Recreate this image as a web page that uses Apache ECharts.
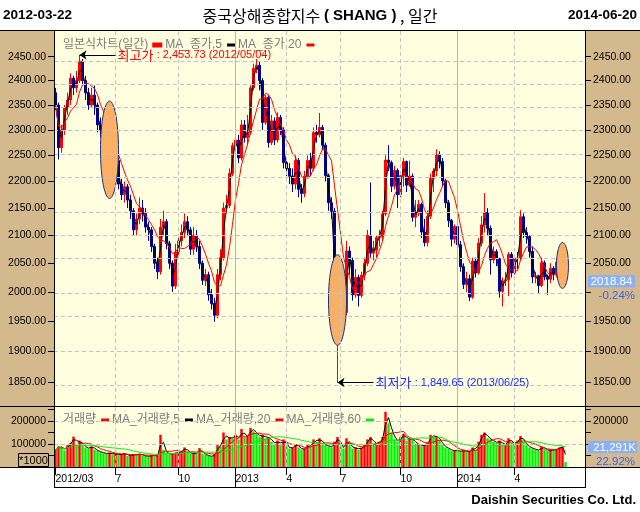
<!DOCTYPE html>
<html>
<head>
<meta charset="utf-8">
<script src="https://cdn.jsdelivr.net/npm/echarts@6/dist/echarts.min.js"></script>
<style>
  html, body { margin: 0; padding: 0; background: #fff; }
  #chart { width: 640px; height: 512px; }
</style>
</head>
<body>
<div id="chart"></div>
<script>
// each bar stands for ~3 trading days (one bar ~ 3px on the original daily chart)
var months = ['2012/03', '2012/04', '2012/05', '2012/06', '2012/07', '2012/08', '2012/09', '2012/10', '2012/11', '2012/12',
  '2013/01', '2013/02', '2013/03', '2013/04', '2013/05', '2013/06', '2013/07', '2013/08', '2013/09', '2013/10', '2013/11', '2013/12',
  '2014/01', '2014/02', '2014/03', '2014/04', '2014/05', '2014/06'];
var barsPerMonth = [2, 6, 6, 6, 7, 7, 7, 5, 7, 7, 6, 5, 6, 6, 6, 6, 7, 7, 6, 6, 6, 7, 7, 5, 7, 7, 6, 5];
var paddingBars = 6;

var opens = [2375, 2350,
  2265, 2300, 2345, 2360, 2405, 2385,
  2400, 2440, 2400, 2375, 2350, 2370,
  2350, 2310, 2300, 2305, 2270, 2230,
  2225, 2240, 2195, 2175, 2190, 2165, 2145,
  2110, 2130, 2150, 2140, 2115, 2110, 2080,
  2050, 2035, 2115, 2125, 2085, 2050, 2010,
  2070, 2090, 2105, 2125, 2110,
  2075, 2100, 2080, 2050, 2020, 2030, 1995,
  1980, 1960, 2030, 2060, 2150, 2155, 2215,
  2269, 2280, 2245, 2310, 2285, 2295,
  2385, 2425, 2432, 2400, 2315,
  2365, 2275, 2318, 2280, 2325, 2300,
  2236, 2225, 2210, 2195, 2240, 2185,
  2177, 2210, 2240, 2225, 2295, 2290,
  2305, 2270, 2211, 2160, 2144, 1950,
  1979, 2005, 1965, 2072, 2055, 1995, 2025,
  1994, 2029, 2050, 2100, 2068, 2073, 2096,
  2098, 2139, 2241, 2236, 2191, 2221,
  2175, 2211, 2238, 2193, 2210, 2133,
  2141, 2157, 2106, 2087, 2135, 2206,
  2220, 2251, 2238, 2201, 2160, 2127, 2093,
  2116, 2083, 2044, 2013, 2023, 1991, 2054,
  2033, 2086, 2119, 2142, 2113,
  2056, 2071, 2058, 2001, 2019, 2021, 2066,
  2033, 2059, 2058, 2134, 2105, 2098, 2071,
  2026, 2028, 2011, 2051, 2026, 2022,
  2041, 2030, 2052, 2070, 2056];

var closes = [2350, 2265,
  2300, 2345, 2360, 2405, 2385, 2400,
  2440, 2400, 2375, 2350, 2370, 2350,
  2310, 2300, 2305, 2270, 2230, 2225,
  2240, 2195, 2175, 2190, 2165, 2145, 2110,
  2130, 2150, 2140, 2115, 2110, 2080, 2050,
  2035, 2115, 2125, 2085, 2050, 2010, 2070,
  2090, 2105, 2125, 2110, 2075,
  2100, 2080, 2050, 2020, 2030, 1995, 1980,
  1960, 2030, 2060, 2150, 2155, 2215, 2269,
  2280, 2245, 2310, 2285, 2295, 2385,
  2425, 2432, 2400, 2315, 2365,
  2275, 2318, 2280, 2325, 2300, 2236,
  2225, 2210, 2195, 2240, 2185, 2177,
  2210, 2240, 2225, 2295, 2290, 2305,
  2270, 2211, 2160, 2144, 1963, 1979,
  2005, 1965, 2072, 2055, 1995, 2025, 1994,
  2029, 2050, 2100, 2068, 2073, 2096, 2098,
  2139, 2241, 2236, 2191, 2221, 2175,
  2211, 2238, 2193, 2210, 2133, 2141,
  2157, 2106, 2087, 2135, 2206, 2220,
  2251, 2238, 2201, 2160, 2127, 2093, 2116,
  2083, 2044, 2013, 2023, 1991, 2054, 2033,
  2086, 2119, 2142, 2113, 2056,
  2071, 2058, 2001, 2019, 2021, 2066, 2033,
  2059, 2058, 2134, 2105, 2098, 2071, 2026,
  2028, 2011, 2051, 2026, 2022, 2041,
  2030, 2052, 2070, 2056, 2018.84];

var lows = [2340, 2242,
  2255, 2290, 2330, 2350, 2370, 2375,
  2395, 2390, 2360, 2340, 2345, 2330,
  2295, 2285, 2280, 2260, 2220, 2200,
  2210, 2185, 2165, 2160, 2150, 2130, 2100,
  2100, 2120, 2125, 2105, 2090, 2070, 2040,
  2022, 2030, 2100, 2075, 2040, 2000, 2005,
  2060, 2080, 2095, 2100, 2065,
  2065, 2070, 2040, 2012, 2010, 1985, 1970,
  1949, 1955, 2020, 2055, 2140, 2150, 2210,
  2255, 2235, 2240, 2275, 2270, 2290,
  2380, 2415, 2380, 2300, 2310,
  2265, 2270, 2270, 2275, 2290, 2225,
  2210, 2195, 2180, 2185, 2170, 2160,
  2170, 2205, 2210, 2220, 2275, 2285,
  2260, 2200, 2145, 2130, 1955, 1849.65,
  1970, 1955, 1960, 2030, 1985, 1990, 1975,
  1990, 2020, 2045, 2060, 2055, 2060, 2080,
  2090, 2135, 2220, 2180, 2185, 2150,
  2170, 2190, 2180, 2190, 2125, 2115,
  2135, 2095, 2080, 2080, 2130, 2180,
  2210, 2225, 2190, 2150, 2115, 2080, 2085,
  2075, 2035, 2005, 2000, 1984, 1988, 2025,
  2030, 2080, 2105, 2100, 2030,
  2050, 2045, 1990, 1975, 2010, 1993, 2025,
  2030, 2040, 2055, 2095, 2085, 2060, 2015,
  2015, 1998, 2008, 2020, 1995, 2015,
  2020, 2025, 2045, 2050, 2012];

var highs = [2385, 2355,
  2310, 2350, 2375, 2415, 2410, 2420,
  2453.73, 2445, 2410, 2385, 2385, 2390,
  2355, 2325, 2320, 2310, 2280, 2245,
  2260, 2245, 2205, 2200, 2195, 2175, 2150,
  2140, 2170, 2165, 2150, 2125, 2115, 2085,
  2060, 2130, 2145, 2130, 2090, 2055, 2085,
  2100, 2120, 2140, 2135, 2115,
  2115, 2110, 2090, 2055, 2040, 2035, 2005,
  1990, 2040, 2075, 2160, 2175, 2225, 2275,
  2295, 2290, 2320, 2320, 2330, 2390,
  2435, 2445, 2440, 2405, 2370,
  2370, 2330, 2325, 2335, 2330, 2305,
  2245, 2235, 2225, 2250, 2245, 2195,
  2220, 2250, 2255, 2305, 2310, 2334,
  2310, 2275, 2215, 2170, 2150, 1990,
  2020, 2010, 2090, 2080, 2060, 2040, 2030,
  2035, 2060, 2110, 2198, 2090, 2100, 2110,
  2145, 2250, 2270, 2240, 2230, 2225,
  2215, 2245, 2240, 2240, 2215, 2165,
  2165, 2160, 2130, 2145, 2215, 2225,
  2262, 2258, 2245, 2205, 2165, 2130, 2120,
  2120, 2090, 2050, 2035, 2030, 2060, 2060,
  2095, 2135, 2178, 2150, 2118,
  2080, 2075, 2060, 2025, 2035, 2070, 2070,
  2065, 2070, 2146, 2140, 2115, 2100, 2080,
  2035, 2030, 2060, 2055, 2030, 2050,
  2045, 2060, 2075, 2087, 2060];

// volume in thousands of axis units (axis is *1000)
var volumesK = [75, 90,
  85, 72, 95, 105, 132, 100,
  115, 95, 85, 80, 90, 75,
  70, 65, 60, 58, 62, 55,
  58, 52, 55, 60, 48, 50, 55,
  52, 58, 50, 48, 45, 52, 47,
  50, 140, 75, 60, 55, 58, 62,
  62, 70, 85, 65, 58,
  60, 55, 82, 58, 52, 48, 45,
  55, 95, 90, 150, 120, 130, 125,
  140, 120, 165, 130, 135, 170,
  155, 145, 130, 140, 125,
  130, 110, 100, 115, 95, 120,
  90, 80, 85, 100, 85, 75,
  80, 95, 90, 120, 110, 125,
  100, 95, 90, 85, 110, 130,
  90, 80, 125, 95, 80, 85, 75,
  85, 95, 120, 130, 100, 105, 110,
  130, 240, 190, 150, 120, 110,
  130, 145, 115, 125, 120, 100,
  100, 90, 95, 105, 140, 130,
  135, 115, 95, 85, 80, 70, 72,
  70, 68, 72, 65, 68, 85, 75,
  110, 140, 150, 125, 120,
  110, 105, 115, 95, 100, 125, 105,
  100, 115, 135, 110, 95, 85, 80,
  75, 72, 90, 78, 70, 75,
  72, 78, 85, 88, 21.291];

var priceTicks = [1850, 1900, 1950, 2000, 2050, 2100, 2150, 2200, 2250, 2300, 2350, 2400, 2450];
// on the right the last-price box covers 2000.00
var rightPriceLabels = [1850, 1900, 1950, 2050, 2100, 2150, 2200, 2250, 2300, 2350, 2400, 2450];
var volumeTicks = [50000, 100000, 150000, 200000, 250000];
var volumeLabels = [100000, 200000];
var lastPrice = 2018.84;
var highPoint = [8, 2453.73];
var lowPoint = [94, 1849.65];
// orange marks: [first bar, last bar, top price, bottom price]
var ellipses = [[15, 21, 2358, 2168], [91, 97, 2065, 1910], [167, 171, 2087, 2006]];

// 5/20/60-day averages span about 2/7/20 of these 3-day bars
var maBars = { ma5: 2, ma20: 7, ma60: 20 };

var categories = [];
var xLabels = {};
var quarterLines = [];
var yearLines = [];
months.forEach(function (m, mi) {
  var start = categories.length;
  var mm = m.slice(5);
  if (mi === 0) xLabels[start] = m;
  else if (mm === '01') { xLabels[start] = m.slice(0, 4); yearLines.push(start); }
  else if (mi > 1 && (mm === '04' || mm === '07' || mm === '10')) { xLabels[start] = String(parseInt(mm, 10)); quarterLines.push(start); }
  for (var k = 0; k < barsPerMonth[mi]; k++) categories.push(m + '#' + k);
});
for (var p = 0; p < paddingBars; p++) categories.push('pad' + p);

function movingAverage(values, n) {
  return values.map(function (v, i) {
    var from = Math.max(0, i - n + 1), sum = 0;
    for (var j = from; j <= i; j++) sum += values[j];
    return sum / (i - from + 1);
  });
}

var L = Math.log;
var candleData = opens.map(function (o, i) {
  return [L(o), L(closes[i]), L(lows[i]), L(highs[i])];
});
var ma5 = movingAverage(closes, maBars.ma5).map(L);
var ma20 = movingAverage(closes, maBars.ma20).map(L);

var volumes = volumesK.map(function (v) { return Math.round(v * 1000); });
var vma5 = movingAverage(volumes, maBars.ma5);
var vma20 = movingAverage(volumes, maBars.ma20);
var vma60 = movingAverage(volumes, maBars.ma60);

var RED = '#ff0000', BLUE = '#0000a0', GREEN = '#00f000', TAN = '#d4b98e', PANEL = '#ffffe0';
var NUM = 'Liberation Sans, Arial, sans-serif';
var KR = 'Noto Sans CJK KR, sans-serif';
var LEG = 'Liberation Sans, Noto Sans CJK KR, sans-serif';
var dashed = { color: '#c4c4c4', type: [4, 3], width: 1 };
var solid = { color: '#b4b4b4', type: 'solid', width: 1 };

function verticalLines() {
  return quarterLines.map(function (i) { return { xAxis: i, lineStyle: dashed }; })
    .concat(yearLines.map(function (i) { return { xAxis: i, lineStyle: solid }; }));
}

var gridLineMark = function (extra) {
  return {
    silent: true, symbol: 'none', animation: false,
    label: { show: false },
    data: extra.concat(verticalLines())
  };
};

var chartDom = document.getElementById('chart');
var myChart = echarts.init(chartDom);
var option;

var priceAxisBase = {
  type: 'value', gridIndex: 0, scale: true,
  min: L(1812.5), max: L(2504.9),
  splitLine: { show: false },
  axisLine: { show: false },
  axisTick: { show: true, length: 6, customValues: priceTicks.map(L), lineStyle: { color: '#000' } },
  axisLabel: {
    customValues: priceTicks.map(L), margin: 8,
    color: '#000', fontSize: 10.5, fontFamily: NUM,
    formatter: function (v) { return Math.exp(v).toFixed(2); }
  }
};
var volAxisBase = {
  type: 'value', gridIndex: 1, min: 0, max: 265000,
  splitLine: { show: false },
  axisLine: { show: false },
  axisTick: { show: true, length: 6, customValues: volumeTicks, lineStyle: { color: '#000' } },
  axisLabel: {
    customValues: volumeLabels, margin: 8, color: '#000', fontSize: 10.5, fontFamily: NUM,
    formatter: function (v) { return String(Math.round(v)); }
  }
};

option = {
  backgroundColor: '#fff',
  animation: false,
  grid: [
    { left: 54, width: 531, top: 31, height: 375, show: true, backgroundColor: PANEL, borderWidth: 0 },
    { left: 54, width: 531, top: 406, height: 61, show: true, backgroundColor: PANEL, borderWidth: 0 }
  ],
  legend: [
    {
      left: 58, top: 32, align: 'right', icon: 'rect', itemWidth: 8, itemHeight: 3, itemGap: 3,
      selectedMode: false,
      textStyle: { color: '#7a7a7a', fontSize: 12, lineHeight: 16, fontFamily: LEG },
      data: [
        { name: '일본식차트(일간)', itemStyle: { color: RED } },
        { name: 'MA_종가,5', itemStyle: { color: '#000' } },
        { name: 'MA_종가,20', itemStyle: { color: RED } }
      ]
    },
    {
      left: 58, top: 407, align: 'right', icon: 'rect', itemWidth: 8, itemHeight: 3, itemGap: 3,
      selectedMode: false,
      textStyle: { color: '#7a7a7a', fontSize: 12, lineHeight: 16, fontFamily: LEG },
      data: [
        { name: '거래량', itemStyle: { color: RED } },
        { name: 'MA_거래량,5', itemStyle: { color: '#000' } },
        { name: 'MA_거래량,20', itemStyle: { color: RED } },
        { name: 'MA_거래량,60', itemStyle: { color: GREEN } }
      ]
    }
  ],
  xAxis: [
    { type: 'category', gridIndex: 0, data: categories, show: false },
    {
      type: 'category', gridIndex: 1, data: categories, position: 'bottom',
      axisLine: { show: false },
      axisTick: {
        show: true, alignWithLabel: true, length: 8, lineStyle: { color: '#000' },
        interval: function (i) { return xLabels[i] !== undefined && yearLines.indexOf(i) < 0; }
      },
      axisLabel: {
        interval: function (i) { return xLabels[i] !== undefined; },
        formatter: function (v, i) { return xLabels[i] || ''; },
        align: 'left', margin: 7, color: '#000', fontSize: 10.5, fontFamily: NUM,
        showMinLabel: true
      }
    },
    {
      type: 'category', gridIndex: 1, data: categories, position: 'bottom',
      axisLine: { show: false },
      axisLabel: { show: false },
      axisTick: {
        show: true, alignWithLabel: true, length: 20, lineStyle: { color: '#000' },
        interval: function (i) { return yearLines.indexOf(i) >= 0; }
      }
    }
  ],
  yAxis: [
    Object.assign({}, priceAxisBase, { position: 'left' }),
    Object.assign({}, priceAxisBase, {
      position: 'right',
      axisLabel: Object.assign({}, priceAxisBase.axisLabel, { customValues: rightPriceLabels.map(L) })
    }),
    Object.assign({}, volAxisBase, { position: 'left' }),
    Object.assign({}, volAxisBase, { position: 'right', axisLabel: Object.assign({}, volAxisBase.axisLabel, { customValues: [200000] }) })
  ],
  series: [
    {
      name: 'priceGrid', type: 'line', xAxisIndex: 0, yAxisIndex: 0, data: [], z: 1,
      markLine: gridLineMark(priceTicks.map(function (p) { return { yAxis: L(p), lineStyle: dashed }; }))
    },
    {
      name: '일본식차트(일간)', type: 'candlestick', xAxisIndex: 0, yAxisIndex: 0, z: 2,
      data: candleData, barWidth: 1.8,
      itemStyle: { color: RED, color0: BLUE, borderColor: RED, borderColor0: BLUE, borderWidth: 1 },
      markLine: {
        silent: true, symbol: 'none', animation: false,
        lineStyle: { color: 'rgba(0,0,0,0)', width: 1, type: 'solid' },
        label: {
          show: true, position: 'end', distance: 3,
          formatter: '{s| }\n{a|' + lastPrice.toFixed(2) + '}\n{b|-0.24%}',
          rich: {
            s: { fontSize: 11, lineHeight: 14 },
            a: { color: '#fff', backgroundColor: '#88b0f2', width: 47, align: 'center', fontSize: 11.5, lineHeight: 14, fontFamily: NUM },
            b: { color: '#3366ee', width: 47, align: 'right', fontSize: 11.5, lineHeight: 14, fontFamily: NUM }
          }
        },
        data: [{ yAxis: L(lastPrice) }]
      }
    },
    {
      name: 'MA_종가,5', type: 'line', xAxisIndex: 0, yAxisIndex: 0, z: 3, data: ma5,
      showSymbol: false, lineStyle: { color: '#000', width: 1 }, itemStyle: { color: '#000' }
    },
    {
      name: 'MA_종가,20', type: 'line', xAxisIndex: 0, yAxisIndex: 0, z: 3, data: ma20,
      showSymbol: false, lineStyle: { color: RED, width: 1 }, itemStyle: { color: RED }
    },
    {
      name: 'marks', type: 'custom', xAxisIndex: 0, yAxisIndex: 0, z: 4,
      data: ellipses, encode: { x: [0, 1], y: [2, 3] },
      renderItem: function (params, api) {
        var a = api.coord([api.value(0), L(api.value(2))]);
        var b = api.coord([api.value(1), L(api.value(3))]);
        var cx = (a[0] + b[0]) / 2, cy = (a[1] + b[1]) / 2;
        var rx = Math.abs(b[0] - a[0]) / 2, ry = Math.abs(b[1] - a[1]) / 2;
        var pts = [];
        for (var k = 0; k < 60; k++) {
          var t = k / 60 * Math.PI * 2;
          pts.push([cx + rx * Math.cos(t), cy + ry * Math.sin(t)]);
        }
        return { type: 'polygon', shape: { points: pts }, style: { fill: '#f9b064', stroke: '#1c2f80', lineWidth: 1 } };
      }
    },
    {
      name: 'extremes', type: 'line', xAxisIndex: 0, yAxisIndex: 0, data: [], z: 5,
      markLine: {
        silent: true, animation: false,
        symbol: ['arrow', 'none'], symbolSize: 7,
        lineStyle: { color: '#000', type: 'solid', width: 1 },
        data: [
          [
            { coord: [highPoint[0], L(highPoint[1])] },
            {
              coord: [20, L(highPoint[1])],
              label: {
                show: true, position: 'end', distance: 2,
                formatter: '{a|최고가} {b|: 2,453.73 (2012/05/04)}',
                rich: {
                  a: { color: RED, fontSize: 13, fontFamily: KR },
                  b: { color: RED, fontSize: 11, fontFamily: NUM }
                }
              }
            }
          ],
          [
            { coord: [lowPoint[0], L(lowPoint[1])] },
            {
              coord: [106, L(lowPoint[1])],
              label: {
                show: true, position: 'end', distance: 2,
                formatter: '{a|최저가} {b|: 1,849.65 (2013/06/25)}',
                rich: {
                  a: { color: '#1a2cff', fontSize: 13, fontFamily: KR },
                  b: { color: '#1a2cff', fontSize: 11, fontFamily: NUM }
                }
              }
            }
          ]
        ]
      }
    },
    {
      name: 'volumeGrid', type: 'line', xAxisIndex: 1, yAxisIndex: 2, data: [], z: 1,
      markLine: gridLineMark(volumeLabels.map(function (v) { return { yAxis: v, lineStyle: dashed }; }))
    },
    {
      name: '거래량', type: 'bar', xAxisIndex: 1, yAxisIndex: 2, z: 2, data: volumes, barWidth: 2.4,
      itemStyle: {
        color: function (params) {
          var i = params.dataIndex;
          return i > 0 && volumes[i] < volumes[i - 1] ? GREEN : RED;
        }
      }
    },
    {
      name: 'MA_거래량,5', type: 'line', xAxisIndex: 1, yAxisIndex: 2, z: 3, data: vma5,
      showSymbol: false, lineStyle: { color: '#000', width: 1 }, itemStyle: { color: '#000' }
    },
    {
      name: 'MA_거래량,20', type: 'line', xAxisIndex: 1, yAxisIndex: 2, z: 3, data: vma20,
      showSymbol: false, lineStyle: { color: RED, width: 1 }, itemStyle: { color: RED }
    },
    {
      name: 'MA_거래량,60', type: 'line', xAxisIndex: 1, yAxisIndex: 2, z: 3, data: vma60,
      showSymbol: false, lineStyle: { color: GREEN, width: 1 }, itemStyle: { color: GREEN }
    }
  ],
  graphic: [
    { type: 'rect', z: -10, silent: true, shape: { x: 0, y: 31, width: 54, height: 436 }, style: { fill: TAN } },
    { type: 'rect', z: -10, silent: true, shape: { x: 585, y: 31, width: 55, height: 436 }, style: { fill: TAN } },
    { type: 'line', z: 100, silent: true, shape: { x1: 0, y1: 30.5, x2: 640, y2: 30.5 }, style: { stroke: '#000', lineWidth: 1 } },
    { type: 'line', z: 100, silent: true, shape: { x1: 0, y1: 406.5, x2: 640, y2: 406.5 }, style: { stroke: '#000', lineWidth: 1 } },
    { type: 'line', z: 100, silent: true, shape: { x1: 0, y1: 467.5, x2: 640, y2: 467.5 }, style: { stroke: '#000', lineWidth: 1 } },
    { type: 'line', z: 100, silent: true, shape: { x1: 54, y1: 487.5, x2: 586, y2: 487.5 }, style: { stroke: '#000', lineWidth: 1 } },
    { type: 'line', z: 100, silent: true, shape: { x1: 54.5, y1: 31, x2: 54.5, y2: 488 }, style: { stroke: '#000', lineWidth: 1 } },
    { type: 'line', z: 100, silent: true, shape: { x1: 585.5, y1: 31, x2: 585.5, y2: 488 }, style: { stroke: '#000', lineWidth: 1 } },
    {
      type: 'text', z: 100, silent: true,
      style: { text: '2012-03-22', x: 3, y: 15, verticalAlign: 'middle', font: 'bold 13.5px ' + NUM, fill: '#000' }
    },
    {
      type: 'text', z: 100, silent: true,
      style: { text: '2014-06-20', x: 637, y: 15, align: 'right', verticalAlign: 'middle', font: 'bold 13.5px ' + NUM, fill: '#000' }
    },
    {
      type: 'text', z: 100, silent: true,
      style: {
        text: '{k|중국상해종합지수 }{e|( SHANG )}{k| , 일간}', x: 320, y: 16, align: 'center', verticalAlign: 'middle',
        rich: {
          k: { fontSize: 16, fontFamily: KR, fill: '#000' },
          e: { fontSize: 15, fontFamily: NUM, fontWeight: 'bold', fill: '#000' }
        }
      }
    },
    {
      type: 'text', z: 100, silent: true,
      style: { text: 'Daishin Securities Co. Ltd.', x: 636, y: 500, align: 'right', verticalAlign: 'middle', font: 'bold 13px ' + NUM, fill: '#000' }
    },
    {
      type: 'rect', z: 100, silent: true, shape: { x: 18.5, y: 453.5, width: 30, height: 13 },
      style: { fill: 'none', stroke: '#000', lineWidth: 1 }
    },
    {
      type: 'text', z: 100, silent: true,
      style: { text: '*1000', x: 33.5, y: 460.5, align: 'center', verticalAlign: 'middle', font: '11px ' + NUM, fill: '#000' }
    },
    { type: 'rect', z: 100, silent: true, shape: { x: 588, y: 441, width: 49, height: 12 }, style: { fill: '#88b0f2' } },
    {
      type: 'text', z: 101, silent: true,
      style: { text: '21,291K', x: 636, y: 447.5, align: 'right', verticalAlign: 'middle', font: '11.5px ' + NUM, fill: '#fff' }
    },
    {
      type: 'text', z: 101, silent: true,
      style: { text: '22.92%', x: 635, y: 462, align: 'right', verticalAlign: 'middle', font: '11.5px ' + NUM, fill: '#3366ee' }
    }
  ]
};

myChart.setOption(option);
</script>
</body>
</html>
